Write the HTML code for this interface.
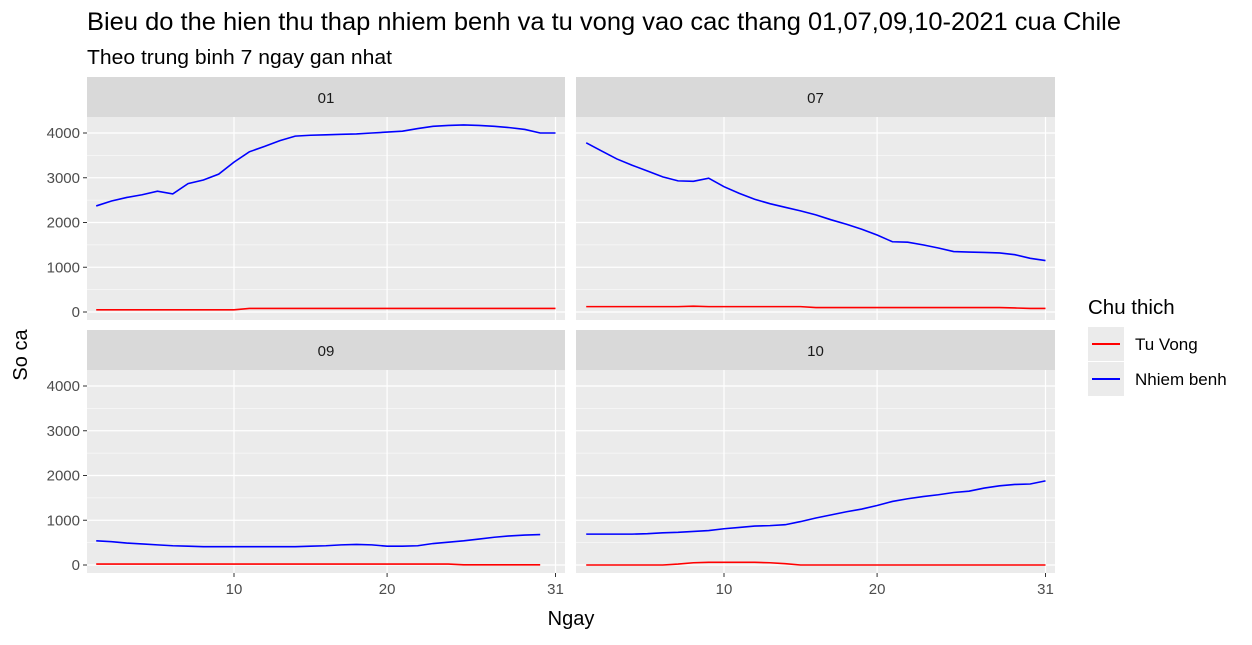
<!DOCTYPE html>
<html><head><meta charset="utf-8"><style>body{margin:0;background:#fff}svg text{font-family:"Liberation Sans",Arial,sans-serif}</style></head>
<body>
<svg id="c" width="1252" height="640">
<text x="87" y="30" font-size="25" fill="#000" textLength="1034" lengthAdjust="spacingAndGlyphs">Bieu do the hien thu thap nhiem benh va tu vong vao cac thang 01,07,09,10-2021 cua Chile</text>
<text x="87" y="64" font-size="20" fill="#000" textLength="305" lengthAdjust="spacingAndGlyphs">Theo trung binh 7 ngay gan nhat</text>
<text transform="translate(27,355) rotate(-90)" text-anchor="middle" font-size="20">So ca</text>
<text x="571" y="625" text-anchor="middle" font-size="20">Ngay</text>
<g>
<text x="1088" y="314" font-size="20.5">Chu thich</text>
<rect x="1088" y="327" width="36" height="34" fill="#ebebeb"/>
<line x1="1092" x2="1120" y1="344" y2="344" stroke="#f00" stroke-width="2"/>
<text x="1135" y="350" font-size="17">Tu Vong</text>
<rect x="1088" y="362" width="36" height="34" fill="#ebebeb"/>
<line x1="1092" x2="1120" y1="379" y2="379" stroke="#00f" stroke-width="2"/>
<text x="1135" y="385" font-size="17">Nhiem benh</text>
</g>
</svg>
<script>
const months=["01","07","09","10"];
const infJan=[2370,2480,2560,2620,2700,2640,2870,2950,3080,3350,3580,3700,3830,3930,3950,3960,3970,3980,4000,4020,4040,4100,4150,4170,4180,4170,4150,4120,4080,4000,4000];
const deaJan=[50,50,50,50,50,50,50,50,50,50,80,80,80,80,80,80,80,80,80,80,80,80,80,80,80,80,80,80,80,80,80];
const infJul=[3780,3600,3420,3280,3150,3020,2930,2920,2990,2800,2650,2520,2420,2340,2260,2170,2060,1960,1850,1720,1570,1560,1500,1430,1350,1340,1330,1320,1280,1200,1150];
const deaJul=[120,120,120,120,120,120,120,130,120,120,120,120,120,120,120,100,100,100,100,100,100,100,100,100,100,100,100,100,90,80,80];
const infSep=[540,520,490,470,450,430,420,410,410,410,410,410,410,410,420,430,450,460,450,420,420,430,480,510,540,580,620,650,670,680];
const deaSep=[20,20,20,20,20,20,20,20,20,20,20,20,20,20,20,20,20,20,20,20,20,20,20,20,5,5,5,5,5,5];
const infOct=[690,690,690,690,700,720,730,750,770,810,840,870,880,900,970,1050,1120,1190,1250,1330,1420,1480,1530,1570,1620,1650,1720,1770,1800,1810,1880];
const deaOct=[0,0,0,0,0,0,20,50,60,60,60,60,50,30,0,0,0,0,0,0,0,0,0,0,0,0,0,0,0,0,0];
const yTicks=[0,1000,2000,3000,4000];
const xTicks=[10,20,31];
const series=[[infJan,deaJan],[infJul,deaJul],[infSep,deaSep],[infOct,deaOct]];
const NS="http://www.w3.org/2000/svg";
const svg=document.getElementById('c');
function mk(t,a,p){const e=document.createElementNS(NS,t);for(const k in a)e.setAttribute(k,a[k]);(p||svg).appendChild(e);return e;}
const cols=[{x0:87,x1:565,off:0},{x0:576,x1:1055,off:490}];
const rows=[{y0:117,y1:320,zero:312},{y0:370,y1:573,zero:565}];
months.forEach((m,i)=>{
 const c=cols[i%2],r=rows[Math.floor(i/2)];
 const X=d=>234+c.off+(d-10)*(321.5/21);
 const Y=v=>r.zero-v*0.04475;
 const g=mk('g',{});
 
 
 const st=mk('rect',{x:c.x0,y:r.y0-40,width:c.x1-c.x0,height:40,fill:'#d9d9d9'},g);
 
 const sl=mk('text',{x:(c.x0+c.x1)/2,y:r.y0-14,'text-anchor':'middle','font-size':'15',fill:'#1a1a1a'},g);sl.textContent=m;
 
 mk('rect',{x:c.x0,y:r.y0,width:c.x1-c.x0,height:r.y1-r.y0,fill:'#ebebeb'},g);
 yTicks.forEach((v,k)=>{ if(k<yTicks.length-1) mk('line',{x1:c.x0,x2:c.x1,y1:Y(v+500),y2:Y(v+500),stroke:'#fff','stroke-width':0.6},g);});
 yTicks.forEach(v=>mk('line',{x1:c.x0,x2:c.x1,y1:Y(v),y2:Y(v),stroke:'#fff','stroke-width':1.2},g));
 xTicks.forEach(d=>mk('line',{x1:X(d),x2:X(d),y1:r.y0,y2:r.y1,stroke:'#fff','stroke-width':1.2},g));
 if(i%2==0){yTicks.forEach(v=>{mk('line',{x1:c.x0-4,x2:c.x0,y1:Y(v),y2:Y(v),stroke:'#333','stroke-width':1},g);
  const t=mk('text',{x:c.x0-7,y:Y(v)+5,'text-anchor':'end','font-size':'15',fill:'#4d4d4d'},g);t.textContent=v;
  });}
 if(i>=2){xTicks.forEach(d=>{mk('line',{x1:X(d),x2:X(d),y1:r.y1,y2:r.y1+4,stroke:'#333','stroke-width':1},g);
  const t=mk('text',{x:X(d),y:r.y1+21,'text-anchor':'middle','font-size':'15',fill:'#4d4d4d'},g);t.textContent=d;
  });}
 const [inf,dea]=series[i];
 [[dea,'#f00','deaths'],[inf,'#00f','infections']].forEach(([arr,col,nm])=>{
  const p=mk('polyline',{points:arr.map((v,k)=>X(k+1)+','+Y(v)).join(' '),fill:'none',stroke:col,'stroke-width':1.6},g);
  });
});
</script>
</body></html>
